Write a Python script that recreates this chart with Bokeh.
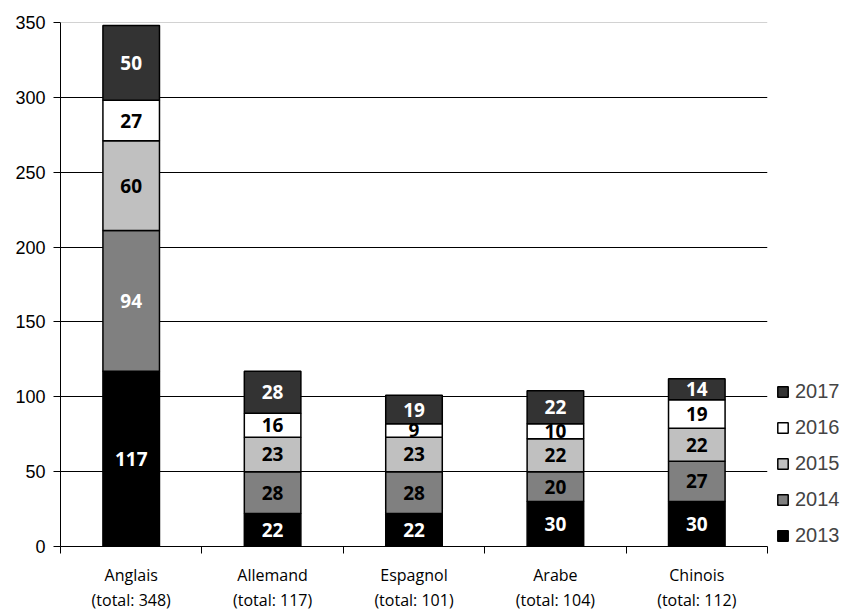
from bokeh.plotting import figure
from bokeh.models import ColumnDataSource, Range1d, FixedTicker, Legend, LegendItem, Span
from bokeh.core.properties import value
from bokeh.embed import file_html
from bokeh.resources import INLINE
import numpy as np

# ---- data ----
languages = ["Anglais", "Allemand", "Espagnol", "Arabe", "Chinois"]
years = ["2013", "2014", "2015", "2016", "2017"]
v2013 = [117, 22, 22, 30, 30]
v2014 = [94, 28, 28, 20, 27]
v2015 = [60, 23, 23, 22, 22]
v2016 = [27, 16, 9, 10, 19]
v2017 = [50, 28, 19, 22, 14]
y_ticks = [0, 50, 100, 150, 200, 250, 300, 350]

series = [v2013, v2014, v2015, v2016, v2017]

# ---- styles ----
fills = ["#000000", "#808080", "#c0c0c0", "#ffffff", "#333333"]
label_colors = [
    ["white"] * 5,
    ["white", "black", "black", "black", "black"],
    ["black"] * 5,
    ["black"] * 5,
    ["white"] * 5,
]

x = np.arange(len(languages))
totals = np.sum(np.array(series), axis=0)

p = figure(frame_width=707, frame_height=524, output_backend="svg", toolbar_location=None,
           x_range=Range1d(-0.5, len(languages) - 0.5), y_range=Range1d(0, 350),
           min_border_left=60, min_border_right=76, min_border_top=22, min_border_bottom=60)
p.outline_line_color = None
p.background_fill_color = "white"

p.xgrid.visible = False
p.ygrid.ticker = FixedTicker(ticks=[t for t in y_ticks if 0 < t < 350])
p.ygrid.grid_line_color = "black"
p.ygrid.grid_line_width = 1
p.add_layout(Span(location=350, dimension="width", line_color="#a6a6a6", line_width=1))

renderers = []
bottom = np.zeros(len(languages))
for i, vals in enumerate(series):
    vals = np.array(vals, dtype=float)
    top = bottom + vals
    src = ColumnDataSource(dict(x=x, bottom=bottom, top=top, mid=(bottom + top) / 2,
                                label=[str(int(v)) for v in vals], color=label_colors[i]))
    r = p.vbar(x="x", width=0.4, bottom="bottom", top="top", source=src,
               fill_color=fills[i], line_color="black", line_width=1.5)
    renderers.append(r)
    p.text(x="x", y="mid", text="label", text_color="color", source=src,
           text_font=value("Open Sans"), text_font_style="bold", text_font_size="19px",
           text_align="center", text_baseline="middle")
    bottom = top

# axes
p.yaxis.ticker = FixedTicker(ticks=y_ticks)
p.yaxis.major_tick_out = 7
p.yaxis.major_tick_in = 0
p.yaxis.minor_tick_out = 0
p.yaxis.minor_tick_in = 0
p.yaxis.axis_line_color = "black"
p.yaxis.major_tick_line_color = "black"
p.yaxis.major_label_text_font = "Liberation Sans"
p.yaxis.major_label_text_font_size = "18px"
p.yaxis.major_label_text_color = "black"
p.yaxis.major_label_standoff = 8

p.xaxis.ticker = FixedTicker(ticks=list(x), minor_ticks=[i - 0.5 for i in range(len(languages) + 1)])
p.xaxis.major_tick_out = 0
p.xaxis.major_tick_in = 0
p.xaxis.minor_tick_out = 7
p.xaxis.minor_tick_in = 0
p.xaxis.minor_tick_line_color = "black"
p.xaxis.axis_line_color = "black"
p.xaxis.major_label_overrides = {int(i): f"{languages[i]}\n(total: {int(totals[i])})" for i in x}
p.xaxis.major_label_text_font = "Open Sans"
p.xaxis.major_label_text_font_size = "16px"
p.xaxis.major_label_text_color = "black"
p.xaxis.major_label_text_line_height = 1.15
p.xaxis.major_label_standoff = 10

legend = Legend(items=[LegendItem(label=years[i], renderers=[renderers[i]]) for i in reversed(range(len(years)))],
                location=(9, -1), padding=0, margin=0, spacing=13,
                glyph_width=13, glyph_height=13, label_height=21, label_standoff=6,
                label_text_font="Liberation Sans", label_text_font_size="20px",
                border_line_color=None, background_fill_alpha=0)
p.add_layout(legend, "right")

open("out.html", "w").write(file_html(p, INLINE))
